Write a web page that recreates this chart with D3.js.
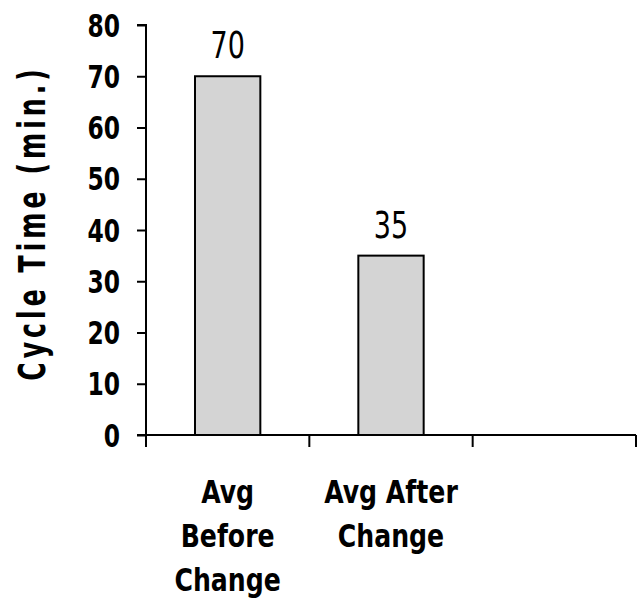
<!DOCTYPE html>
<html>
<head>
<meta charset="utf-8">
<script src="https://cdn.jsdelivr.net/npm/d3@7/dist/d3.min.js"></script>
<style>
  html, body { margin: 0; padding: 0; background: #ffffff; }
  svg { display: block; }
</style>
</head>
<body>
<svg id="chart" width="637" height="600"></svg>
<script>
// Categories (third slot is left empty on the axis)
const categories = ["Avg Before Change", "Avg After Change", ""];
const categoryLines = [["Avg", "Before", "Change"], ["Avg After", "Change"], []];
const cycleTimes = [70, 35, null];
const yTicks = [0, 10, 20, 30, 40, 50, 60, 70, 80];
const yTitle = "Cycle Time (min.)";

const svg = d3.select("#chart");
const plotLeft = 146, plotRight = 636, plotTop = 25, plotBottom = 435;
const FONT = "'DejaVu Sans Condensed', 'DejaVu Sans', sans-serif";

const x = d3.scaleBand()
  .domain(categories.map((c, i) => i))
  .range([plotLeft, plotRight])
  .paddingInner(0.6)
  .paddingOuter(0.3);

const y = d3.scaleLinear().domain([0, 80]).range([plotBottom, plotTop]);

// Text drawn with a vertical stretch
function stretchedText(g, px, py, str, opts) {
  const sy = opts.sy || 1;
  const t = g.append("g").attr("transform", `translate(${px},${py})${opts.rotate ? ` rotate(${opts.rotate})` : ""}`)
    .append("text")
    .attr("transform", `scale(${opts.sx || 1},${sy})`)
    .attr("x", 0)
    .attr("y", 0)
    .attr("text-anchor", opts.anchor || "middle")
    .attr("font-family", FONT)
    .attr("font-weight", opts.weight || "bold")
    .attr("font-size", opts.size)
    .attr("fill", "#000")
    .text(str);
  if (opts.spacing) t.attr("letter-spacing", opts.spacing);
  return t;
}

// Bars
const data = cycleTimes.map((v, i) => ({ i, v })).filter(d => d.v != null);
svg.append("g").selectAll("rect").data(data).join("rect")
  .attr("x", d => x(d.i))
  .attr("y", d => y(d.v))
  .attr("width", x.bandwidth())
  .attr("height", d => y(0) - y(d.v))
  .attr("fill", "#d4d4d4")
  .attr("stroke", "#000")
  .attr("stroke-width", 2);

// Value labels above bars
const valG = svg.append("g");
data.forEach(d => {
  stretchedText(valG, x(d.i) + x.bandwidth() / 2, y(d.v) - 18, String(d.v),
    { size: 30, sy: 1.22, weight: "normal" });
});

// Y axis
const yAxis = d3.axisLeft(y).tickValues(yTicks).tickSize(9).tickFormat("");
const yG = svg.append("g").attr("transform", `translate(${plotLeft},0)`).call(yAxis);
yG.select(".domain").attr("stroke", "#000").attr("stroke-width", 2).attr("d", `M-9,${plotTop}H0V${plotBottom}`);
yG.selectAll(".tick line").attr("stroke", "#000").attr("stroke-width", 2);

const tickG = svg.append("g");
yTicks.forEach(t => {
  stretchedText(tickG, 120, y(t) + 11.5, String(t), { size: 26, sy: 1.22, anchor: "end" });
});

// X axis with ticks at category boundaries
const step = x.step();
const bounds = d3.range(categories.length + 1).map(k => plotLeft + k * step);
const xG = svg.append("g");
xG.append("line")
  .attr("x1", plotLeft - 9).attr("x2", plotRight)
  .attr("y1", plotBottom).attr("y2", plotBottom)
  .attr("stroke", "#000").attr("stroke-width", 2);
xG.selectAll("line.tick").data(bounds).join("line")
  .attr("class", "tick")
  .attr("x1", d => d).attr("x2", d => d)
  .attr("y1", plotBottom).attr("y2", plotBottom + 12)
  .attr("stroke", "#000").attr("stroke-width", 2);

// Category labels
const catG = svg.append("g");
categoryLines.forEach((lines, i) => {
  lines.forEach((ln, j) => {
    stretchedText(catG, x(i) + x.bandwidth() / 2, 503 + j * 44, ln, { size: 28, sy: 1.15 });
  });
});

// Y axis title
stretchedText(svg, 45, 223, yTitle, { size: 28, sy: 1.3, rotate: -90, spacing: 4 });
</script>
</body>
</html>
